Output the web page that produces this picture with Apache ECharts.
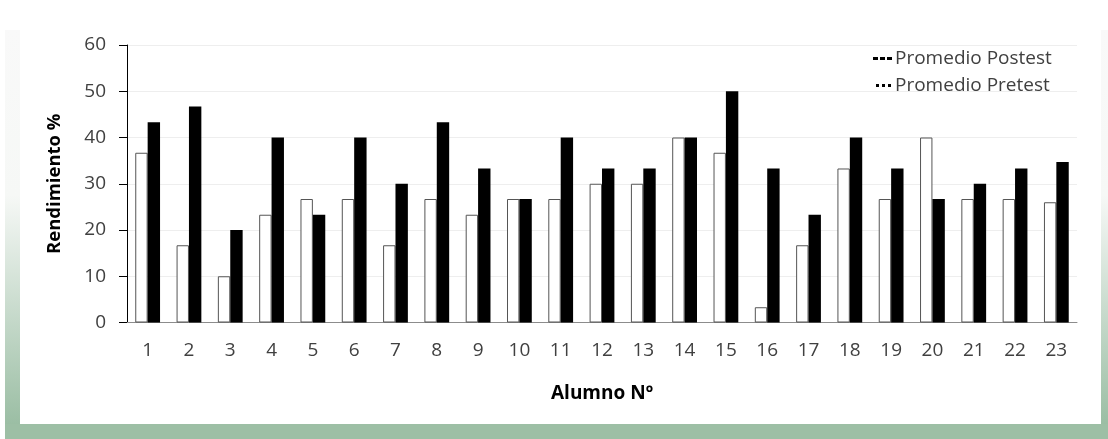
<!DOCTYPE html>
<html>
<head>
<meta charset="utf-8">
<script src="https://cdn.jsdelivr.net/npm/echarts@6/dist/echarts.min.js"></script>
<style>
html,body{margin:0;padding:0;background:#fff;}
#c{width:1108px;height:439px;}
</style>
</head>
<body>
<div id="c"></div>
<script>
var categories = ['1','2','3','4','5','6','7','8','9','10','11','12','13','14','15','16','17','18','19','20','21','22','23'];
var pretest = [36.7,16.7,10,23.3,26.7,26.7,16.7,26.7,23.3,26.7,26.7,30,30,40,36.7,3.3,16.7,33.3,26.7,40,26.7,26.7,26];
var postest = [43.3,46.7,20,40,23.3,40,30,43.3,33.3,26.7,40,33.3,33.3,40,50,33.3,23.3,40,33.3,26.7,30,33.3,34.7];
var yTicks = [0,10,20,30,40,50,60];
var legendNames = ['Promedio Postest','Promedio Pretest'];

var chart = echarts.init(document.getElementById('c'), null, {renderer:'canvas'});
var fontFam = '"Open Sans", "Noto Sans", sans-serif';
var sideGrad = {type:'linear',x:0,y:0,x2:0,y2:1,colorStops:[
  {offset:0,color:'#f9f9f9'},{offset:0.42,color:'#f6f8f6'},{offset:1,color:'#9bbea4'}]};
var dashIcon = 'path://M0,0h5v3h-5z M7,0h5v3h-5z M14,0h5v3h-5z';
var dotIcon = 'path://M0,0h3v3h-3z M6,0h3v3h-3z M12,0h3v3h-3z';
chart.setOption({
  animation:false,
  backgroundColor:'#ffffff',
  textStyle:{fontFamily:fontFam},
  graphic:[
    {type:'rect',z:-10,shape:{x:5,y:30,width:15,height:394},style:{fill:sideGrad},silent:true},
    {type:'rect',z:-10,shape:{x:1101,y:30,width:7,height:394},style:{fill:sideGrad},silent:true},
    {type:'rect',z:-10,shape:{x:5,y:424,width:1103,height:15},style:{fill:'#9dbfa5'},silent:true}
  ],
  grid:{left:127,right:31,top:45,bottom:116.5,containLabel:false},
  legend:[
    {data:[{name:legendNames[0],icon:dashIcon}],
     left:868,top:44,itemWidth:19,itemHeight:3,
     itemStyle:{color:'#000',borderWidth:0},
     textStyle:{fontSize:19,color:'#404040',fontFamily:fontFam,padding:[0,0,0,-2]}},
    {data:[{name:legendNames[1],icon:dotIcon}],
     left:871,top:71,itemWidth:15,itemHeight:3,
     itemStyle:{color:'#000',borderWidth:0},
     textStyle:{fontSize:19,color:'#404040',fontFamily:fontFam,padding:[0,0,0,-1]}}
  ],
  xAxis:{
    type:'category',
    data:categories,
    name:'Alumno Nº',
    nameLocation:'middle',
    nameGap:62,
    nameTextStyle:{fontSize:19,fontWeight:'bold',color:'#000',fontFamily:fontFam},
    axisLine:{lineStyle:{color:'#8c8c8c',width:1}},
    axisTick:{show:false},
    axisLabel:{fontSize:19,color:'#404040',margin:19,interval:0},
    splitLine:{show:false}
  },
  yAxis:{
    type:'value',
    min:0,max:60,interval:10,
    name:'Rendimiento %',
    nameLocation:'middle',
    nameGap:63,
    nameTextStyle:{fontSize:18.5,fontWeight:'bold',color:'#000',fontFamily:fontFam},
    axisLine:{show:true,lineStyle:{color:'#000',width:1}},
    axisTick:{show:true,length:8,lineStyle:{color:'#000'}},
    axisLabel:{fontSize:19,color:'#404040',margin:21,
      formatter:function(v){return yTicks.indexOf(v)>=0?String(v):'';}},
    splitLine:{show:true,lineStyle:{color:'#eeeeee',width:1}}
  },
  series:[
    {name:'Pretest',type:'bar',data:pretest,barGap:'0%',barCategoryGap:'40%',
     itemStyle:{color:'#ffffff',borderColor:'#555555',borderWidth:1}},
    {name:'Postest',type:'bar',data:postest,barGap:'0%',barCategoryGap:'40%',
     itemStyle:{color:'#000000',borderColor:'#000000',borderWidth:0}},
    {name:legendNames[0],type:'line',data:[],symbol:'none',
     itemStyle:{color:'#000'},lineStyle:{color:'#000',width:2.5,type:[5,2]}},
    {name:legendNames[1],type:'line',data:[],symbol:'none',
     itemStyle:{color:'#000'},lineStyle:{color:'#000',width:2.5,type:[2.5,3]}}
  ]
});
</script>
</body>
</html>
